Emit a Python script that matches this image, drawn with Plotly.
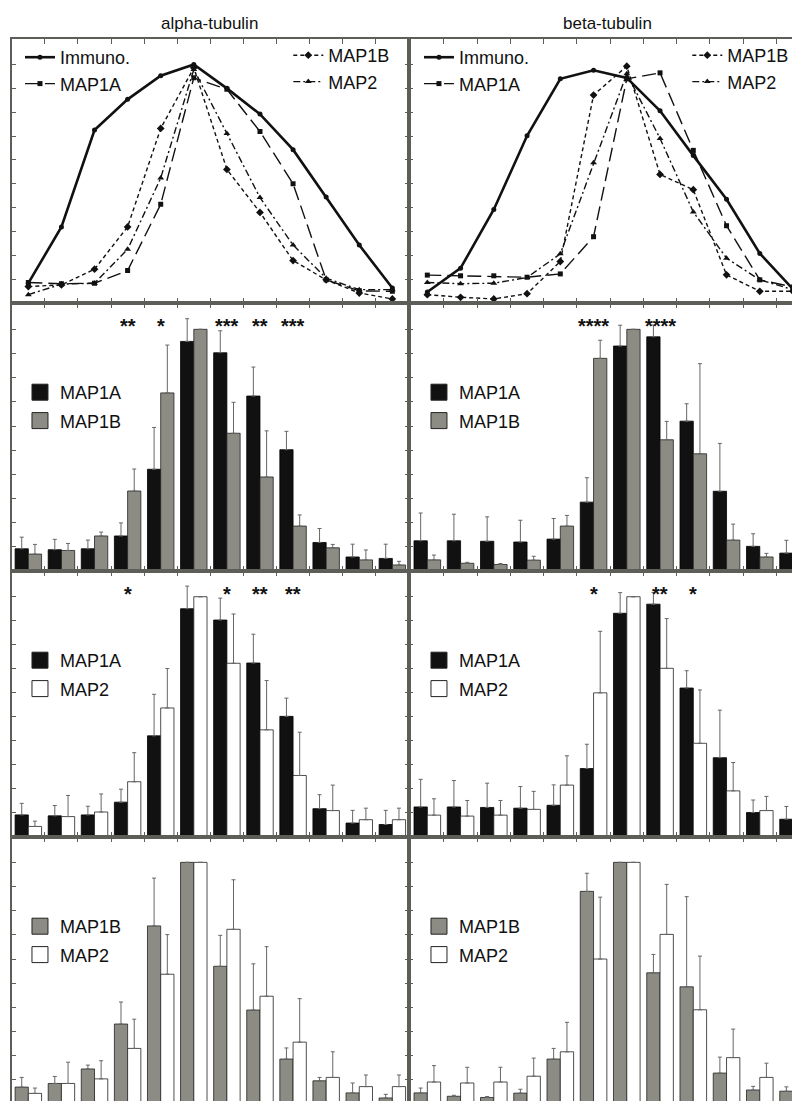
import plotly.graph_objects as go

# ---------------- data ----------------
FRACTIONS = list(range(1, 13))
TUBULINS = ["alpha-tubulin", "beta-tubulin"]

# top row: distribution profiles (line plot)
IMMUNO_ALPHA = [8.3, 31.9, 72.5, 85.4, 95.3, 100, 90.0, 79.2, 64.3, 44.4, 24.3, 6.3]
MAP1A_LINE_ALPHA = [8.6, 8.1, 8.3, 13.6, 41.4, 94.4, 89.6, 71.9, 50.0, 9.7, 5.1, 4.9]
MAP1B_LINE_ALPHA = [6.9, 7.6, 14.2, 31.9, 73.2, 98.6, 56.0, 38.0, 17.8, 9.7, 4.2, 1.7]
MAP2_LINE_ALPHA = [3.5, 7.9, 8.3, 22.5, 52.4, 97.9, 71.1, 44.2, 24.3, 10.4, 5.6, 5.6]

IMMUNO_BETA = [4.6, 14.6, 39.2, 70.1, 94.0, 97.6, 94.4, 80.6, 61.8, 43.5, 20.8, 5.8]
MAP1A_LINE_BETA = [11.7, 11.4, 11.4, 10.8, 12.2, 27.8, 94.0, 96.5, 64.0, 32.4, 9.7, 6.7]
MAP1B_LINE_BETA = [3.5, 2.4, 1.7, 3.9, 17.4, 87.2, 99.3, 53.9, 47.5, 11.8, 4.9, 4.9]
MAP2_LINE_BETA = [8.6, 8.1, 8.3, 10.7, 20.6, 58.8, 96.1, 69.0, 38.2, 18.8, 9.7, 5.6]

# bar rows: means and upper error (None = no bar drawn)
MAP1A_ALPHA = [9.2, 8.8, 9.2, 14.5, 42.1, 95.0, 90.3, 72.4, 50.2, 11.8, 5.8, 5.2]
MAP1A_ALPHA_ERR = [4.8, 4.3, 3.6, 5.4, 17.3, 9.4, 9.1, 12.0, 7.6, 5.8, 5.3, 5.9]
MAP1B_ALPHA = [7.0, 8.5, 14.5, 33.1, 73.7, 100, 57.0, 38.9, 18.6, 9.6, 4.6, 2.5]
MAP1B_ALPHA_ERR = [4.0, 2.9, 1.6, 9.1, 19.8, None, 12.8, 19.1, 4.6, 1.4, 4.1, 1.5]
MAP2_ALPHA = [4.4, 8.5, 10.4, 23.0, 53.7, 100, 72.3, 44.6, 25.6, 11.0, 7.2, 7.2]
MAP2_ALPHA_ERR = [2.2, 8.8, 7.5, 12.1, 16.4, None, 20.5, 20.5, 18.0, 10.6, 4.8, 4.8]

MAP1A_BETA = [12.5, 12.5, 12.3, 12.0, 13.2, 28.5, 93.1, 96.9, 62.0, 33.0, 10.2, 7.4]
MAP1A_BETA_ERR = [11.5, 11.0, 10.1, 9.0, 8.5, 10.1, 8.6, 4.9, 7.2, 19.8, 5.2, 5.3]
MAP1B_BETA = [4.6, 3.2, 2.7, 4.5, 18.6, 88.0, 100, 54.3, 48.5, 12.8, 5.8, 5.3]
MAP1B_BETA_ERR = [2.0, 0.4, 0.4, 1.6, 4.4, 7.5, None, 7.6, 37.3, 6.6, 1.5, 1.8]
MAP2_BETA = [9.1, 8.7, 9.1, 11.5, 21.6, 60.0, 100, 70.2, 39.0, 19.2, 11.0, 7.5]
MAP2_BETA_ERR = [6.8, 6.5, 6.1, 7.5, 12.2, 25.6, None, 20.7, 22.2, 11.8, 5.9, 2.7]

# significance marks (fraction -> stars)
SIG_ROW2_ALPHA = {4: "**", 5: "*", 7: "***", 8: "**", 9: "***"}
SIG_ROW2_BETA = {6: "****", 8: "****"}
SIG_ROW3_ALPHA = {4: "*", 7: "*", 8: "**", 9: "**"}
SIG_ROW3_BETA = {6: "*", 8: "**", 9: "*"}
STAR_Y = 101.3

# ---------------- layout helpers ----------------
W, H = 800, 1101
PAGE_OFFSET = 8  # body margin of the html page (screen px)
# geometry below is given in screen px of the photographed page
COL_PX = [(11.8, 409.9), (410.0, 808.0)]
ROW_PX = [(39, 303), (303, 571), (571, 837), (837, 1109)]
X_RANGES = [[0.5, 12.5], [0.449, 12.39]]
Y_RANGES = [[0, 110.7], [0, 110.9], [0, 110.7], [-2.07, 110.5]]

FONT = "Liberation Sans, Arial, sans-serif"
FRAME = "#5e5e58"
INK = "#111111"
GRAY = "#8c8c84"
ERRC = "#666666"


def px2x(p):
    return (p - PAGE_OFFSET) / W


def px2y(p):
    return 1 - (p - PAGE_OFFSET) / H


def ax_id(r, c):
    n = r * 2 + c + 1
    return ("x" if n == 1 else f"x{n}"), ("y" if n == 1 else f"y{n}"), n


fig = go.Figure()
layout = {}

for r in range(4):
    for c in range(2):
        xa, ya, n = ax_id(r, c)
        xkey = "xaxis" if n == 1 else f"xaxis{n}"
        ykey = "yaxis" if n == 1 else f"yaxis{n}"
        layout[xkey] = dict(
            domain=[max(0, px2x(COL_PX[c][0])), min(1, px2x(COL_PX[c][1]))],
            range=X_RANGES[c], anchor=ya, showgrid=False, zeroline=False,
            tickvals=[f + 0.5 for f in FRACTIONS[:-1]], ticks="inside", ticklen=5,
            tickcolor=FRAME, tickwidth=1, showticklabels=False,
            showline=True, linecolor=FRAME, linewidth=2, mirror="ticks",
        )
        layout[ykey] = dict(
            domain=[max(0, px2y(ROW_PX[r][1])), min(1, px2y(ROW_PX[r][0]))],
            range=Y_RANGES[r], anchor=xa, showgrid=False, zeroline=False,
            tickvals=list(range(10, 101, 10)), ticks="inside", ticklen=4,
            tickcolor=FRAME, tickwidth=1, showticklabels=False,
            showline=True, linecolor=FRAME, linewidth=2, mirror="ticks",
        )

# ---------------- top row: line profiles ----------------
LINE_SPECS = [
    ("Immuno.", dict(color=INK, width=2.6), dict(symbol="circle", size=5, color=INK)),
    ("MAP1A", dict(color=INK, width=1.4, dash="14px,6px"), dict(symbol="square", size=5, color=INK)),
    ("MAP1B", dict(color=INK, width=1.4, dash="4px,3px"), dict(symbol="diamond", size=6, color=INK)),
    ("MAP2", dict(color=INK, width=1.4, dash="7px,3px,2px,3px"), dict(symbol="triangle-up", size=6, color=INK)),
]
LINE_DATA = [
    [IMMUNO_ALPHA, MAP1A_LINE_ALPHA, MAP1B_LINE_ALPHA, MAP2_LINE_ALPHA],
    [IMMUNO_BETA, MAP1A_LINE_BETA, MAP1B_LINE_BETA, MAP2_LINE_BETA],
]
for c in range(2):
    xa, ya, n = ax_id(0, c)
    for i, (name, ln, mk) in enumerate(LINE_SPECS):
        leg = 1 + c * 2 + (0 if i < 2 else 1)
        fig.add_trace(go.Scatter(
            x=FRACTIONS, y=LINE_DATA[c][i], name=name, mode="lines+markers",
            line=ln, marker=mk, xaxis=xa, yaxis=ya,
            legend="legend" if leg == 1 else f"legend{leg}",
        ))

# ---------------- bar rows ----------------
STYLE = {
    "MAP1A": dict(color=INK, line=dict(color="#000", width=0.8)),
    "MAP1B": dict(color=GRAY, line=dict(color="#222", width=0.8)),
    "MAP2": dict(color="#ffffff", line=dict(color="#222", width=0.8)),
}
BAR_ROWS = [
    (("MAP1A", MAP1A_ALPHA, MAP1A_ALPHA_ERR, MAP1A_BETA, MAP1A_BETA_ERR),
     ("MAP1B", MAP1B_ALPHA, MAP1B_ALPHA_ERR, MAP1B_BETA, MAP1B_BETA_ERR),
     SIG_ROW2_ALPHA, SIG_ROW2_BETA),
    (("MAP1A", MAP1A_ALPHA, MAP1A_ALPHA_ERR, MAP1A_BETA, MAP1A_BETA_ERR),
     ("MAP2", MAP2_ALPHA, MAP2_ALPHA_ERR, MAP2_BETA, MAP2_BETA_ERR),
     SIG_ROW3_ALPHA, SIG_ROW3_BETA),
    (("MAP1B", MAP1B_ALPHA, MAP1B_ALPHA_ERR, MAP1B_BETA, MAP1B_BETA_ERR),
     ("MAP2", MAP2_ALPHA, MAP2_ALPHA_ERR, MAP2_BETA, MAP2_BETA_ERR),
     {}, {}),
]
annotations = []
for ri, (s1, s2, sig_a, sig_b) in enumerate(BAR_ROWS):
    r = ri + 1
    for c in range(2):
        xa, ya, n = ax_id(r, c)
        leg = 5 + ri * 2 + c
        for k, s in enumerate((s1, s2)):
            name = s[0]
            vals = s[1] if c == 0 else s[3]
            errs = s[2] if c == 0 else s[4]
            fig.add_trace(go.Bar(
                x=FRACTIONS, y=vals, name=name, xaxis=xa, yaxis=ya,
                offsetgroup=str(k), marker=STYLE[name], showlegend=False,
                error_y=dict(type="data", array=errs, arrayminus=[0] * len(errs),
                             symmetric=False, color=ERRC, thickness=1, width=2),
            ))
            # legend swatch
            fig.add_trace(go.Scatter(
                x=[None], y=[None], name=name, mode="markers", xaxis=xa, yaxis=ya,
                marker=dict(symbol="square", size=16, color=STYLE[name]["color"],
                            line=dict(color="#222", width=1)),
                legend=f"legend{leg}", legendgroup=f"g{leg}{k}",
            ))
        sig = sig_a if c == 0 else sig_b
        for f, stars in sig.items():
            annotations.append(dict(
                x=f, y=STAR_Y, xref=xa, yref=ya, text=stars, showarrow=False,
                font=dict(family=FONT, size=20, color=INK, weight="bold"),
                xanchor="center", yanchor="middle",
            ))

# titles
for c, t in enumerate(TUBULINS):
    cx = [210, 609][c]
    annotations.append(dict(
        x=px2x(cx), y=px2y(24), xref="paper", yref="paper", text=t, showarrow=False,
        font=dict(family=FONT, size=17, color=INK), xanchor="center", yanchor="middle",
    ))


# legends
def legend_at(xpx, ytop_px, gap=0):
    return dict(x=px2x(xpx), y=px2y(ytop_px), xanchor="left", yanchor="top",
                bgcolor="rgba(0,0,0,0)", borderwidth=0, tracegroupgap=gap,
                font=dict(family=FONT, size=18, color=INK), itemwidth=30)


layout["legend"] = legend_at(20, 39)
layout["legend2"] = legend_at(289, 37)
layout["legend3"] = legend_at(420, 39)
layout["legend4"] = legend_at(689, 37)
for ri in range(3):
    top = ROW_PX[ri + 1][0]
    for c in range(2):
        leg = 5 + ri * 2 + c
        layout[f"legend{leg}"] = legend_at(20 + 400 * c, top + 71, gap=2)

fig.update_layout(
    width=W, height=H, margin=dict(l=0, r=0, t=0, b=0),
    paper_bgcolor="white", plot_bgcolor="white",
    barmode="group", bargap=0.2, bargroupgap=0,
    annotations=annotations, font=dict(family=FONT, color=INK),
    **layout,
)

fig.write_html("out.html")
